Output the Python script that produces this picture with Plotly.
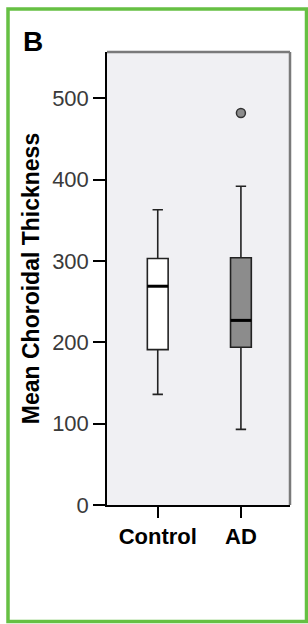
import plotly.graph_objects as go

groups = ["Control", "AD"]
q1 = [191, 194]
medians = [269, 227]
q3 = [303, 304]
lower_whisker = [136, 93]
upper_whisker = [363, 392]
fills = ["#ffffff", "#8c8c8c"]
outlier_group = [1]
outlier_value = [482]
y_ticks = [0, 100, 200, 300, 400, 500]

W, H = 308, 624
L, R, T, B = 107, 18, 52, 119
pw, ph = W - L - R, H - T - B

def px_x(v):
    return (v - L) / pw

def px_y(v):
    return (H - B - v) / ph

fig = go.Figure()
for i, g in enumerate(groups):
    fig.add_trace(go.Box(
        x=[i], q1=[q1[i]], median=[medians[i]], q3=[q3[i]],
        lowerfence=[lower_whisker[i]], upperfence=[upper_whisker[i]],
        width=0.25, whiskerwidth=0.5, fillcolor=fills[i],
        line=dict(color="#222222", width=1.6), boxpoints=False,
        showlegend=False, hoverinfo="skip",
    ))
    fig.add_trace(go.Scatter(
        x=[i - 0.125, i + 0.125], y=[medians[i], medians[i]], mode="lines",
        line=dict(color="#000000", width=3), showlegend=False, hoverinfo="skip",
    ))

fig.add_trace(go.Scatter(
    x=outlier_group, y=outlier_value, mode="markers",
    marker=dict(size=9, color="#8c8c8c", line=dict(color="#333333", width=1.5)),
    showlegend=False, hoverinfo="skip",
))

fig.update_layout(
    width=W, height=H,
    margin=dict(l=L, r=R, t=T, b=B),
    paper_bgcolor="white", plot_bgcolor="#f0f0f3",
    font=dict(family="Liberation Sans, Arial, sans-serif", color="#000"),
    xaxis=dict(
        range=[-0.61, 1.59], tickmode="array", tickvals=list(range(len(groups))),
        ticktext=groups, ticks="outside", ticklen=11, tickcolor="#000", tickwidth=1.5,
        showline=True, linecolor="#000", linewidth=1.5, showgrid=False, zeroline=False,
        tickfont=dict(size=22, color="#000", family="Liberation Sans, Arial, sans-serif", weight="bold"),
    ),
    yaxis=dict(
        range=[0, 557], tickmode="array", tickvals=y_ticks,
        ticks="outside", ticklen=12, tickcolor="#000", tickwidth=1.5,
        showline=True, linecolor="#000", linewidth=1.5, showgrid=False, zeroline=False,
        tickfont=dict(size=22, color="#3a3a3a"),
        title=dict(text="<b>Mean Choroidal Thickness</b>", font=dict(size=23, color="#000"), standoff=6),
    ),
    shapes=[
        dict(type="line", xref="paper", yref="paper", x0=0, x1=1, y0=1, y1=1,
             line=dict(color="#7a7a7a", width=2.5)),
        dict(type="line", xref="paper", yref="paper", x0=1, x1=1, y0=0, y1=1,
             line=dict(color="#7a7a7a", width=2.5)),
        dict(type="rect", xref="paper", yref="paper",
             x0=px_x(8), x1=px_x(306.5), y0=px_y(621.5), y1=px_y(9),
             line=dict(color="#66c043", width=3.5), layer="below"),
    ],
    annotations=[
        dict(text="<b>B</b>", xref="paper", yref="paper", x=px_x(21), y=px_y(24),
             xanchor="left", yanchor="top", showarrow=False,
             font=dict(size=28, color="#000")),
    ],
)

fig.write_html(
    "out.html",
    config={"displayModeBar": False},
    post_script="document.body.style.margin='0';document.body.style.overflow='hidden';",
)
